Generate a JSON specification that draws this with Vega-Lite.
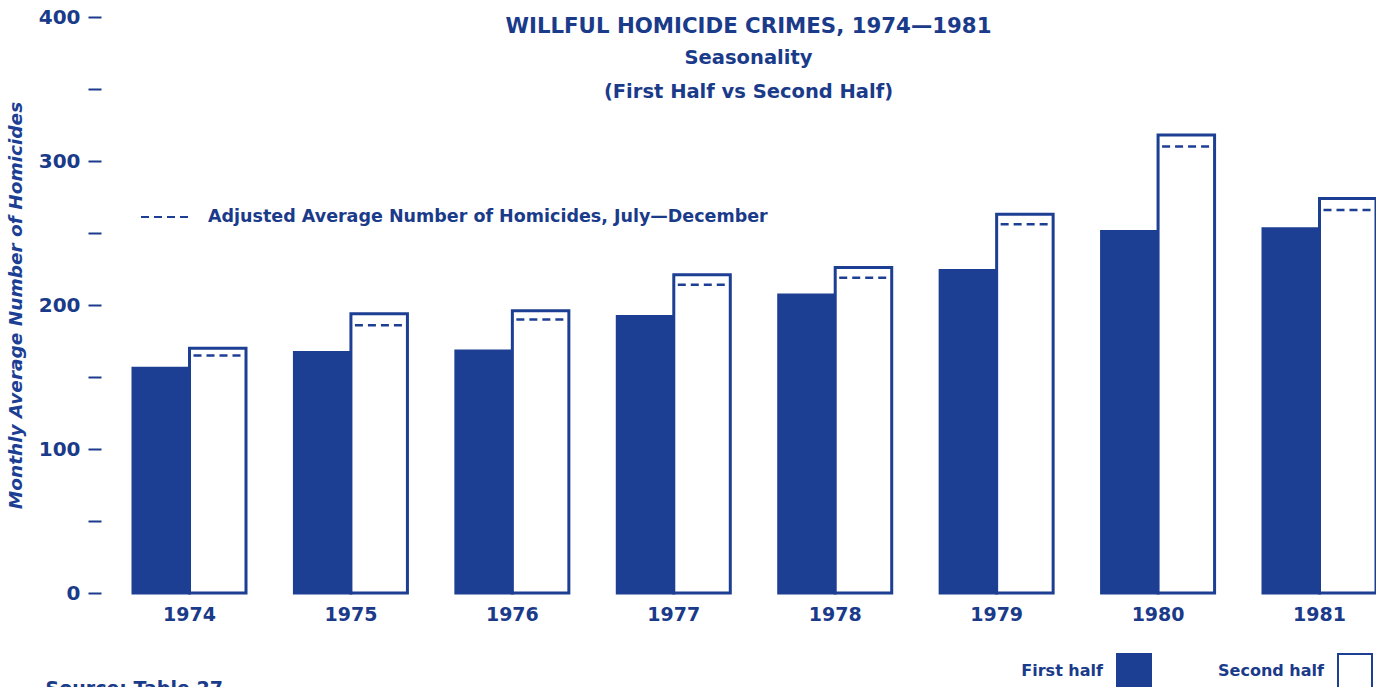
{
  "$schema": "https://vega.github.io/schema/vega-lite/v6.json",
  "width": 1243,
  "height": 576,
  "autosize": {"type": "none"},
  "padding": {"left": 133, "top": 17, "right": 0, "bottom": 94},
  "background": "white",
  "config": {
    "view": {"stroke": null},
    "font": "DejaVu Sans",
    "title": {"color": "#1a3a8a"}
  },
  "title": {
    "text": "WILLFUL HOMICIDE CRIMES, 1974\u20141981",
    "subtitle": ["Seasonality", "(First Half vs Second Half)"],
    "anchor": "middle",
    "frame": "group",
    "dx": -6,
    "offset": -94,
    "fontSize": 21.3,
    "fontWeight": "bold",
    "color": "#1a3a8a",
    "subtitleFontSize": 19.5,
    "subtitleFontWeight": "bold",
    "subtitleColor": "#1a3a8a",
    "subtitleLineHeight": 34,
    "subtitlePadding": 11
  },
  "datasets": {
    "bars": [
      {"year": "1974", "half": "First half", "value": 156},
      {"year": "1974", "half": "Second half", "value": 170},
      {"year": "1975", "half": "First half", "value": 167},
      {"year": "1975", "half": "Second half", "value": 194},
      {"year": "1976", "half": "First half", "value": 168},
      {"year": "1976", "half": "Second half", "value": 196},
      {"year": "1977", "half": "First half", "value": 192},
      {"year": "1977", "half": "Second half", "value": 221},
      {"year": "1978", "half": "First half", "value": 207},
      {"year": "1978", "half": "Second half", "value": 226},
      {"year": "1979", "half": "First half", "value": 224},
      {"year": "1979", "half": "Second half", "value": 263},
      {"year": "1980", "half": "First half", "value": 251},
      {"year": "1980", "half": "Second half", "value": 318},
      {"year": "1981", "half": "First half", "value": 253},
      {"year": "1981", "half": "Second half", "value": 274}
    ],
    "adjusted": [
      {"year": "1974", "series": "Adjusted Average Number of Homicides, July\u2014December", "adj": 165},
      {"year": "1975", "series": "Adjusted Average Number of Homicides, July\u2014December", "adj": 186},
      {"year": "1976", "series": "Adjusted Average Number of Homicides, July\u2014December", "adj": 190},
      {"year": "1977", "series": "Adjusted Average Number of Homicides, July\u2014December", "adj": 214},
      {"year": "1978", "series": "Adjusted Average Number of Homicides, July\u2014December", "adj": 219},
      {"year": "1979", "series": "Adjusted Average Number of Homicides, July\u2014December", "adj": 256},
      {"year": "1980", "series": "Adjusted Average Number of Homicides, July\u2014December", "adj": 310},
      {"year": "1981", "series": "Adjusted Average Number of Homicides, July\u2014December", "adj": 266}
    ]
  },
  "layer": [
    {
      "data": {"name": "bars"},
      "mark": {"type": "bar", "stroke": "#1c3f94", "strokeWidth": 3},
      "encoding": {
        "x": {
          "field": "year",
          "type": "ordinal",
          "scale": {"paddingInner": 0.3, "paddingOuter": 0},
          "axis": {
            "title": "Source:  Table 27",
            "titleAnchor": "start",
            "titleAlign": "left",
            "titleBaseline": "top",
            "titleX": -88,
            "titleY": 86,
            "titleFontSize": 19,
            "titleFontWeight": "bold",
            "titleColor": "#1a3a8a",
            "labelAngle": 0,
            "labelFontSize": 19,
            "labelFontWeight": "bold",
            "labelColor": "#1a3a8a",
            "labelPadding": 12,
            "ticks": false,
            "domain": false
          }
        },
        "xOffset": {
          "field": "half",
          "type": "nominal",
          "scale": {"paddingInner": 0, "paddingOuter": 0},
          "sort": ["First half", "Second half"]
        },
        "y": {
          "field": "value",
          "type": "quantitative",
          "scale": {"domain": [0, 400], "nice": false},
          "axis": {
            "values": [0, 50, 100, 150, 200, 250, 300, 350, 400],
            "labelExpr": "datum.value % 100 === 0 ? datum.label : ''",
            "title": "Monthly Average Number of Homicides",
            "titleFontSize": 18.5,
            "titleFontWeight": "bold",
            "titleFontStyle": "italic",
            "titleColor": "#1c3f94",
            "titlePadding": 13,
            "labelFontSize": 20,
            "labelFontWeight": "bold",
            "labelColor": "#1a3a8a",
            "labelPadding": 8,
            "tickSize": 13,
            "tickWidth": 2,
            "tickColor": "#1a3a8a",
            "offset": 32,
            "domain": false,
            "grid": false
          }
        },
        "fill": {
          "field": "half",
          "type": "nominal",
          "scale": {"domain": ["First half", "Second half"], "range": ["#1c3f94", "#ffffff"]},
          "legend": {
            "title": null,
            "orient": "none",
            "legendX": 983,
            "legendY": 636,
            "direction": "horizontal",
            "symbolType": "square",
            "symbolSize": 1156,
            "symbolStrokeColor": "#1c3f94",
            "symbolStrokeWidth": 2,
            "labelAlign": "right",
            "labelOffset": -49,
            "labelFontSize": 16,
            "labelFontWeight": "bold",
            "labelColor": "#1a3a8a",
            "columnPadding": 63,
            "labelLimit": 200
          }
        }
      }
    },
    {
      "data": {"name": "adjusted"},
      "mark": {"type": "rule", "color": "#1c3f94", "strokeWidth": 2.5, "xOffset": 4, "x2Offset": -4},
      "encoding": {
        "x": {"field": "year", "type": "ordinal", "bandPosition": 0.5},
        "x2": {"field": "year", "bandPosition": 1},
        "y": {"field": "adj", "type": "quantitative"},
        "strokeDash": {
          "field": "series",
          "type": "nominal",
          "scale": {"range": [[8, 5]]},
          "legend": {
            "title": null,
            "orient": "none",
            "legendX": 7,
            "legendY": 173,
            "symbolType": "stroke",
            "symbolSize": 2700,
            "symbolStrokeWidth": 2,
            "symbolStrokeColor": "#1c3f94",
            "labelFontSize": 17.5,
            "labelFontWeight": "bold",
            "labelColor": "#1a3a8a",
            "labelOffset": 14,
            "labelLimit": 700
          }
        }
      }
    }
  ]
}
